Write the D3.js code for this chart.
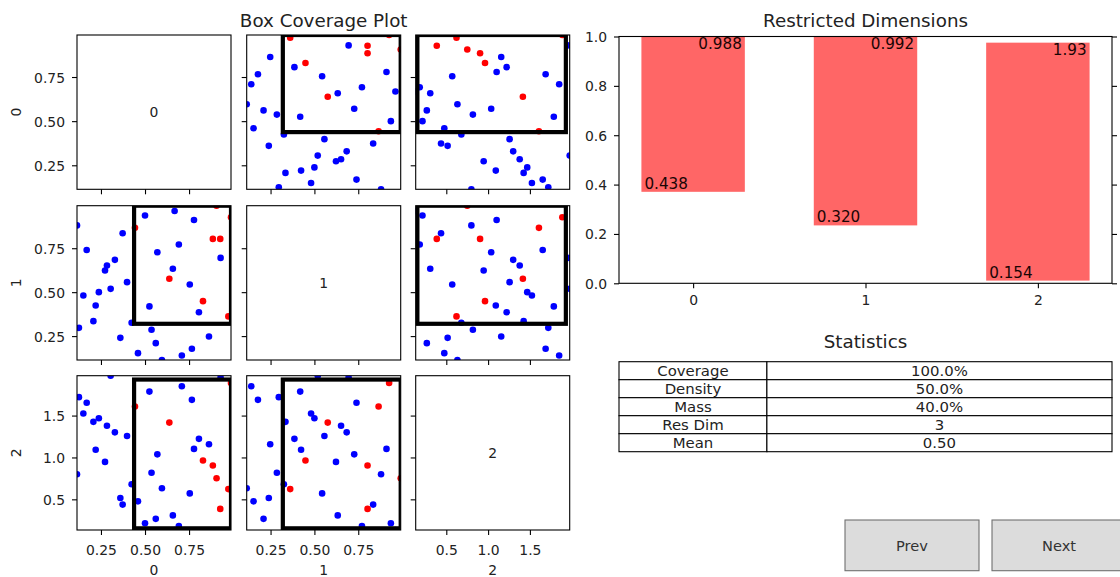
<!DOCTYPE html>
<html>
<head>
<meta charset="utf-8">
<script src="https://cdn.jsdelivr.net/npm/d3@7"></script>
<style>
  html, body { margin: 0; padding: 0; background: #fff; }
  svg { display: block; font-family: "DejaVu Sans", sans-serif; }
</style>
</head>
<body>
<svg id="fig" width="1120" height="577"></svg>
<script>
// ---- data -------------------------------------------------------------
const dimNames = ["0", "1", "2"];

// sample coordinates, one array per input dimension
const x0 = [0.114, 0.125, 0.150, 0.169, 0.207, 0.220, 0.238, 0.273, 0.284, 0.305,
            0.329, 0.360, 0.373, 0.398, 0.424, 0.443, 0.460, 0.500, 0.525, 0.537,
            0.561, 0.570, 0.596, 0.638, 0.658, 0.668, 0.692, 0.709, 0.754, 0.766,
            0.778, 0.806, 0.829, 0.863, 0.885, 0.906, 0.927, 0.929, 0.973, 0.988];
const x1 = [0.880, 0.297, 0.481, 0.740, 0.335, 0.424, 0.500, 0.623, 0.652, 0.519,
            0.684, 0.240, 0.835, 0.557, 0.326, 0.866, 0.153, 0.936, 0.419, 0.286,
            0.210, 0.727, 0.114, 0.576, 0.633, 0.962, 0.771, 0.140, 0.544, 0.178,
            0.911, 0.386, 0.449, 0.248, 0.803, 0.992, 0.803, 0.695, 0.362, 0.926];
const x2 = [0.800, 1.720, 1.524, 1.653, 1.425, 1.092, 1.468, 0.947, 1.378, 1.976,
            1.300, 0.516, 0.437, 1.257, 0.680, 1.608, 0.476, 0.215, 1.786, 0.818,
            0.267, 1.037, 0.633, 1.416, 0.308, 0.134, 0.182, 1.850, 0.571, 1.688,
            1.102, 1.222, 0.963, 1.157, 0.904, 0.751, 0.386, 1.955, 0.622, 1.888];
// 1 = case of interest
const outcome = [0, 0, 0, 0, 0, 0, 0, 0, 0, 0,
                 0, 0, 0, 0, 0, 1, 0, 0, 0, 0,
                 0, 0, 0, 1, 0, 0, 0, 0, 0, 0,
                 0, 0, 1, 0, 1, 1, 1, 0, 1, 1];

// box limits per dimension
const boxLower = [0.438, 0.320, 0.154];
const boxUpper = [0.988, 0.992, 1.93];

const gridTicks = [[0.25, 0.50, 0.75], [0.25, 0.50, 0.75], [0.5, 1.0, 1.5]];
const gridTickFormats = [".2f", ".2f", ".1f"];
const barTicks = [0, 0.2, 0.4, 0.6, 0.8, 1.0];

const statNames  = ["Coverage", "Density", "Mass", "Res Dim", "Mean"];
const statValues = ["100.0%", "50.0%", "40.0%", "3", "0.50"];

const buttonLabels = ["Prev", "Next"];

// ---- layout ------------------------------------------------------------
const TEXT = "#222";
const svg = d3.select("#fig");
const defs = svg.append("defs");

const columns = [x0, x1, x2];
const extents = columns.map(c => d3.extent(c));

const cellW = 154, cellH = 154.3;
const colLeft = [77, 246.7, 415.7];
const rowTop = [35, 205.7, 375.7];

const tickFont = 13.9, titleFont = 18.3, labelFont = 15.2;

function styleAxis(g) {
  g.select(".domain").remove();
  g.selectAll(".tick line").attr("stroke", "#000").attr("stroke-width", 1.1);
  g.selectAll(".tick text").attr("fill", TEXT).style("font-size", tickFont + "px")
    .style("font-family", "DejaVu Sans, sans-serif");
}

// ---- scatter matrix ----------------------------------------------------
for (let i = 0; i < 3; i++) {
  for (let j = 0; j < 3; j++) {
    const xs = d3.scaleLinear().domain(extents[j]).range([colLeft[j], colLeft[j] + cellW]);
    const ys = d3.scaleLinear().domain(extents[i]).range([rowTop[i] + cellH, rowTop[i]]);
    const clipId = `cell-${i}-${j}`;
    defs.append("clipPath").attr("id", clipId).append("rect")
      .attr("x", colLeft[j]).attr("y", rowTop[i]).attr("width", cellW).attr("height", cellH);

    const cell = svg.append("g");
    const plot = cell.append("g").attr("clip-path", `url(#${clipId})`);

    if (i === j) {
      cell.append("text")
        .attr("x", colLeft[j] + cellW / 2).attr("y", rowTop[i] + cellH / 2)
        .attr("dy", "0.36em").attr("text-anchor", "middle")
        .attr("fill", TEXT).style("font-size", tickFont + "px")
        .text(dimNames[i]);
    } else {
      const pts = d3.range(x0.length).map(k => ({
        x: columns[j][k], y: columns[i][k], c: outcome[k]
      }));
      plot.selectAll("circle").data(pts).join("circle")
        .attr("cx", d => xs(d.x)).attr("cy", d => ys(d.y)).attr("r", 3.3)
        .attr("fill", d => d.c ? "#ff0000" : "#0000ff");
      plot.append("rect")
        .attr("x", xs(boxLower[j])).attr("y", ys(boxUpper[i]))
        .attr("width", xs(boxUpper[j]) - xs(boxLower[j]))
        .attr("height", ys(boxLower[i]) - ys(boxUpper[i]))
        .attr("fill", "none").attr("stroke", "#000").attr("stroke-width", 4.2);
    }

    const fx = d3.format(gridTickFormats[j]);
    const fy = d3.format(gridTickFormats[i]);
    cell.append("g").attr("transform", `translate(0,${rowTop[i] + cellH})`)
      .call(d3.axisBottom(xs).tickValues(gridTicks[j]).tickSize(5).tickSizeOuter(0)
        .tickPadding(10).tickFormat(i === 2 ? fx : () => ""))
      .call(styleAxis);
    cell.append("g").attr("transform", `translate(${colLeft[j]},0)`)
      .call(d3.axisLeft(ys).tickValues(gridTicks[i]).tickSize(5).tickSizeOuter(0)
        .tickPadding(7).tickFormat(j === 0 ? fy : () => ""))
      .call(styleAxis)
      .call(g => g.selectAll(".tick text").attr("dy", "0.36em"));

    cell.append("rect")
      .attr("x", colLeft[j]).attr("y", rowTop[i]).attr("width", cellW).attr("height", cellH)
      .attr("fill", "none").attr("stroke", "#000").attr("stroke-width", 1.1);
  }
}

// axis names of the matrix
dimNames.forEach((name, k) => {
  const cy = rowTop[k] + cellH / 2;
  svg.append("text").attr("transform", `translate(21,${cy}) rotate(-90)`)
    .attr("text-anchor", "middle").attr("fill", TEXT).style("font-size", tickFont + "px")
    .text(name);
  svg.append("text").attr("x", colLeft[k] + cellW / 2).attr("y", 575)
    .attr("text-anchor", "middle").attr("fill", TEXT).style("font-size", tickFont + "px")
    .text(name);
});

svg.append("text").attr("x", colLeft[1] + cellW / 2).attr("y", 26.7)
  .attr("text-anchor", "middle").attr("fill", TEXT).style("font-size", titleFont + "px")
  .text("Box Coverage Plot");

// ---- restricted dimensions bar chart ----------------------------------
const barL = 619, barR = 1112, barT = 36.5, barB = 283.3;
const halfW = 0.3, pad = (dimNames.length - 1 + 2 * halfW) * 0.05;
const bx = d3.scaleLinear().domain([-halfW - pad, dimNames.length - 1 + halfW + pad]).range([barL, barR]);
const by = d3.scaleLinear().domain([0, 1]).range([barB, barT]);

const bars = dimNames.map((name, k) => {
  const [lo, hi] = extents[k];
  return {
    k, name,
    lower: boxLower[k], upper: boxUpper[k],
    nLo: (boxLower[k] - lo) / (hi - lo),
    nHi: (boxUpper[k] - lo) / (hi - lo)
  };
});

defs.append("clipPath").attr("id", "bar-clip").append("rect")
  .attr("x", barL).attr("y", barT).attr("width", barR - barL).attr("height", barB - barT);

const barG = svg.append("g");
barG.append("g").attr("clip-path", "url(#bar-clip)")
  .selectAll("rect").data(bars).join("rect")
  .attr("x", d => bx(d.k - halfW)).attr("width", d => bx(d.k + halfW) - bx(d.k - halfW))
  .attr("y", d => by(d.nHi)).attr("height", d => by(d.nLo) - by(d.nHi))
  .attr("fill", "#ff6666");

const fLo = d3.format(".3f"), fHi = d3.format(".3g");
barG.selectAll("text.lo").data(bars).join("text").attr("class", "lo")
  .attr("x", d => bx(d.k - halfW) + 3).attr("y", d => by(d.nLo) - 3)
  .attr("fill", "#1a0505").style("font-size", labelFont + "px")
  .text(d => fLo(d.lower));
barG.selectAll("text.hi").data(bars).join("text").attr("class", "hi")
  .attr("x", d => bx(d.k + halfW) - 3).attr("y", d => by(d.nHi) + 12)
  .attr("text-anchor", "end")
  .attr("fill", "#1a0505").style("font-size", labelFont + "px")
  .text(d => fHi(d.upper));

barG.append("g").attr("transform", `translate(0,${barB})`)
  .call(d3.axisBottom(bx).tickValues(d3.range(dimNames.length)).tickSize(5).tickSizeOuter(0)
    .tickPadding(7).tickFormat(k => dimNames[k]))
  .call(styleAxis);
barG.append("g").attr("transform", `translate(${barL},0)`)
  .call(d3.axisLeft(by).tickValues(barTicks).tickSize(5).tickSizeOuter(0)
    .tickPadding(7).tickFormat(d3.format(".1f")))
  .call(styleAxis)
  .call(g => g.selectAll(".tick text").attr("dy", "0.36em"));
barG.append("g").attr("transform", `translate(${barR},0)`)
  .call(d3.axisRight(by).tickValues(barTicks).tickSize(5).tickSizeOuter(0).tickFormat(() => ""))
  .call(styleAxis);
barG.append("rect").attr("x", barL).attr("y", barT)
  .attr("width", barR - barL).attr("height", barB - barT)
  .attr("fill", "none").attr("stroke", "#000").attr("stroke-width", 1.1);

svg.append("text").attr("x", (barL + barR) / 2).attr("y", 26.7)
  .attr("text-anchor", "middle").attr("fill", TEXT).style("font-size", titleFont + "px")
  .text("Restricted Dimensions");

// ---- statistics table -------------------------------------------------
const tblT = 361.7, rowH = 18, splitX = barL + 0.3 * (barR - barL);
svg.append("text").attr("x", (barL + barR) / 2).attr("y", 348)
  .attr("text-anchor", "middle").attr("fill", TEXT).style("font-size", titleFont + "px")
  .text("Statistics");

const tbl = svg.append("g");
const rows = statNames.map((n, r) => ({ name: n, value: statValues[r], r }));
tbl.selectAll("rect.c0").data(rows).join("rect")
  .attr("x", barL).attr("y", d => tblT + d.r * rowH).attr("width", splitX - barL).attr("height", rowH)
  .attr("fill", "#fff").attr("stroke", "#000").attr("stroke-width", 1.1);
tbl.selectAll("rect.c1").data(rows).join("rect")
  .attr("x", splitX).attr("y", d => tblT + d.r * rowH).attr("width", barR - splitX).attr("height", rowH)
  .attr("fill", "#fff").attr("stroke", "#000").attr("stroke-width", 1.1);
tbl.selectAll("text.n").data(rows).join("text").attr("class", "n")
  .attr("x", (barL + splitX) / 2).attr("y", d => tblT + d.r * rowH + rowH / 2)
  .attr("dy", "0.37em").attr("text-anchor", "middle").attr("fill", TEXT)
  .style("font-size", "14.9px").text(d => d.name);
tbl.selectAll("text.v").data(rows).join("text").attr("class", "v")
  .attr("x", (splitX + barR) / 2).attr("y", d => tblT + d.r * rowH + rowH / 2)
  .attr("dy", "0.37em").attr("text-anchor", "middle").attr("fill", TEXT)
  .style("font-size", "14.9px").text(d => d.value);

// ---- navigation buttons -----------------------------------------------
const btnX = [845, 992], btnY = 520, btnW = 134, btnH = 50.7;
buttonLabels.forEach((label, k) => {
  const b = svg.append("g");
  b.append("rect").attr("x", btnX[k]).attr("y", btnY).attr("width", btnW).attr("height", btnH)
    .attr("fill", "#dcdcdc").attr("stroke", "#707070").attr("stroke-width", 1.1);
  b.append("text").attr("x", btnX[k] + btnW / 2).attr("y", btnY + btnH / 2)
    .attr("dy", "0.36em").attr("text-anchor", "middle").attr("fill", "#333")
    .style("font-size", "14.6px").text(label);
});
</script>
</body>
</html>
